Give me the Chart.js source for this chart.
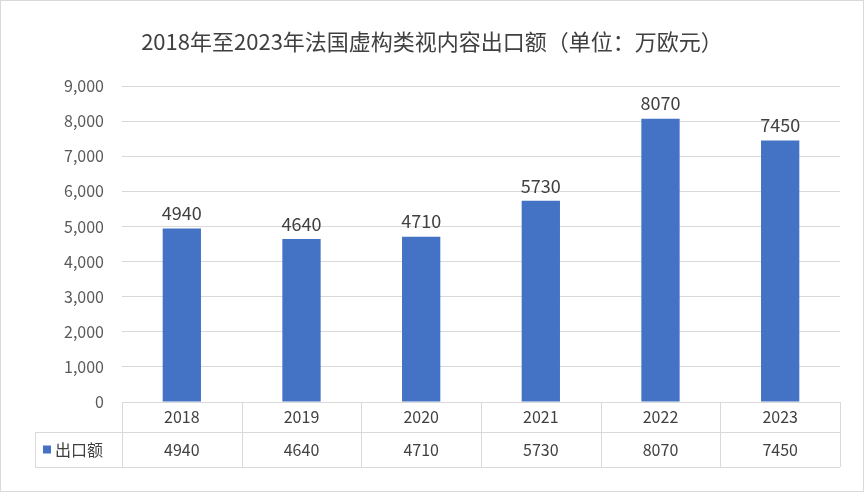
<!DOCTYPE html>
<html><head><meta charset="utf-8">
<script src="https://cdn.jsdelivr.net/npm/chart.js@4"></script>
<style>html,body{margin:0;padding:0;background:#fff}#wrap{width:864px;height:492px}</style>
</head><body>
<div id="wrap"><canvas id="c"></canvas></div>
<script>
const years = ["2018", "2019", "2020", "2021", "2022", "2023"];
const exportValues = [4940, 4640, 4710, 5730, 8070, 7450];
const seriesName = "出口额";
const titleText = "2018年至2023年法国虚构类视内容出口额（单位：万欧元）";
const font = "'Noto Sans CJK SC', 'Noto Sans', sans-serif";

const extras = {
  id: "extras",
  afterDraw(chart) {
    const ctx = chart.ctx, a = chart.chartArea, x = chart.scales.x, y = chart.scales.y;
    ctx.save();
    // title
    ctx.fillStyle = "#404040";
    ctx.font = "22px " + font;
    ctx.textAlign = "center";
    ctx.textBaseline = "middle";
    ctx.fillText(titleText, 432, 42);
    // value labels
    ctx.font = "18px " + font;
    ctx.textBaseline = "bottom";
    exportValues.forEach((v, i) => {
      ctx.fillText(String(v), x.getPixelForValue(i), y.getPixelForValue(v) - 6);
    });
    // data table
    const r1 = a.bottom + 30, r2 = a.bottom + 65, leftX = 35;
    const step = (a.right - a.left) / years.length;
    ctx.strokeStyle = "#d9d9d9";
    ctx.lineWidth = 1;
    ctx.beginPath();
    ctx.moveTo(leftX, r1 + 0.5); ctx.lineTo(a.right, r1 + 0.5);
    ctx.moveTo(leftX, r2 + 0.5); ctx.lineTo(a.right, r2 + 0.5);
    ctx.moveTo(leftX + 0.5, r1); ctx.lineTo(leftX + 0.5, r2);
    for (let i = 0; i <= years.length; i++) {
      const px = Math.round(a.left + i * step) + 0.5;
      ctx.moveTo(px, a.bottom); ctx.lineTo(px, r2);
    }
    ctx.stroke();
    ctx.fillStyle = "#404040";
    ctx.font = "16px " + font;
    ctx.textBaseline = "middle";
    ctx.textAlign = "center";
    years.forEach((yr, i) => {
      const cx = x.getPixelForValue(i);
      ctx.fillText(yr, cx, (a.bottom + r1) / 2);
      ctx.fillText(String(exportValues[i]), cx, (r1 + r2) / 2);
    });
    ctx.fillStyle = "#4472c4";
    ctx.fillRect(43, (r1 + r2) / 2 - 4, 8, 8);
    ctx.fillStyle = "#404040";
    ctx.textAlign = "left";
    ctx.fillText(seriesName, 55, (r1 + r2) / 2);
    // outer border
    ctx.strokeStyle = "#d9d9d9";
    ctx.strokeRect(0.5, 0.5, 863, 491);
    ctx.restore();
  }
};

new Chart(document.getElementById("c"), {
  type: "bar",
  data: {
    labels: years,
    datasets: [{ label: seriesName, data: exportValues, backgroundColor: "#4472c4",
      barPercentage: 0.32, categoryPercentage: 1 }]
  },
  options: {
    responsive: true, maintainAspectRatio: false, animation: false,
    layout: { padding: { top: 86, bottom: 82, right: 24, left: 0 } },
    plugins: { legend: { display: false }, title: { display: false }, tooltip: { enabled: false } },
    scales: {
      x: { ticks: { display: false }, grid: { display: false }, border: { color: "#d9d9d9" } },
      y: {
        min: 0, max: 9000,
        ticks: { stepSize: 1000, color: "#595959", font: { size: 16, family: font }, padding: 18 },
        grid: { color: "#d9d9d9", drawTicks: false },
        border: { display: false },
        afterFit(s) { s.width = 122; }
      }
    }
  },
  plugins: [extras]
});
</script>
</body></html>
